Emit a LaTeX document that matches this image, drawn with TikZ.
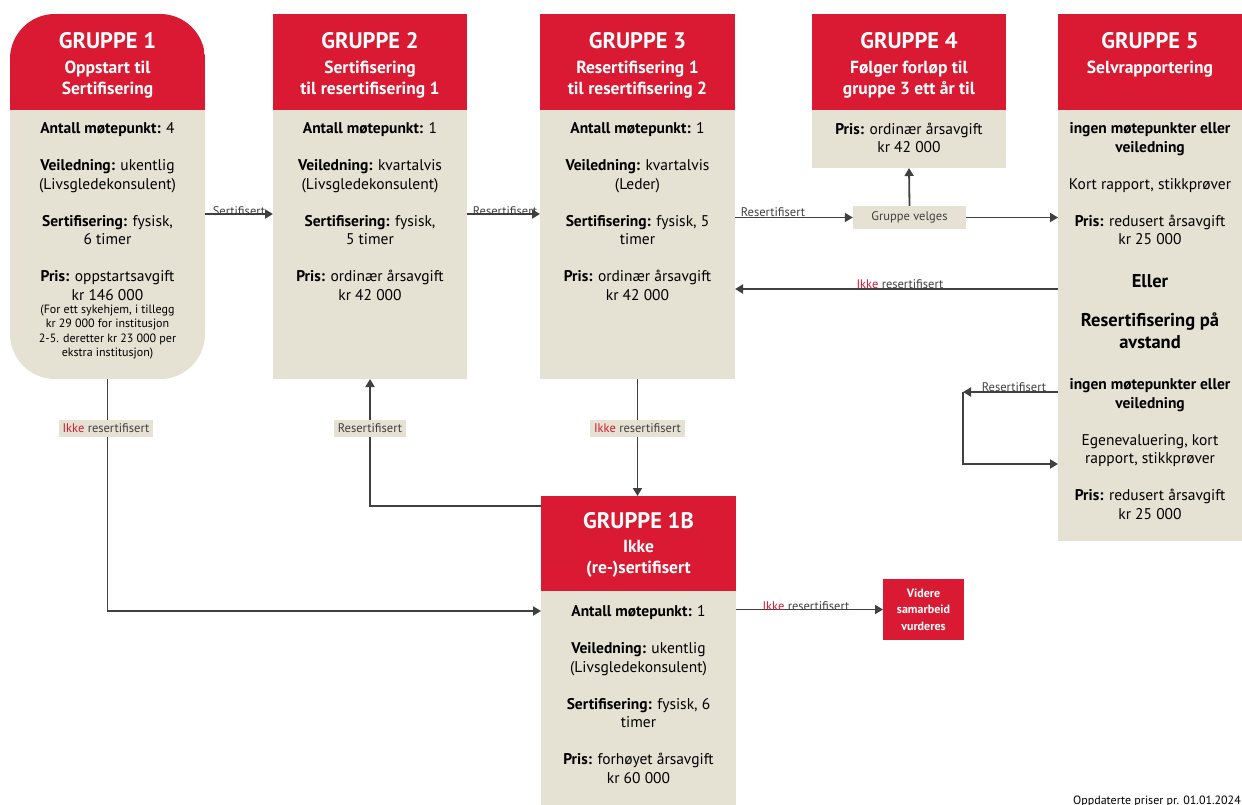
\documentclass[tikz,border=0pt]{standalone}
\usepackage{fontspec}
\setmainfont{PT Sans}
\usetikzlibrary{arrows.meta,calc}
\definecolor{rd}{HTML}{D91A32}
\definecolor{bg}{HTML}{E5E1D3}
\definecolor{lnc}{HTML}{404040}
\tikzset{
 bodybox/.style={fill=bg, inner sep=0, outer sep=0},
 headbox/.style={fill=rd, inner sep=0, outer sep=0},
 ttl/.style={text=white, inner sep=0, font=\fontsize{22.5}{24}\selectfont\bfseries},
 sub/.style={text=white, inner sep=0, font=\fontsize{17.5}{21}\selectfont\bfseries, align=center},
 txt/.style={font=\fontsize{15.5}{18.5}\selectfont, align=center, text=black, inner sep=0, anchor=north},
 small/.style={font=\fontsize{12}{14.5}\selectfont, align=center, text=black, inner sep=0},
 big/.style={font=\fontsize{18.5}{22}\selectfont\bfseries, align=center, text=black, inner sep=0},
 arr/.style={draw=lnc, line width=1.8pt, -{Triangle[length=8pt,width=9pt]}},
 plain/.style={draw=lnc, line width=1.8pt},
 lab/.style={font=\fontsize{12.5}{14}\selectfont, text=lnc, inner sep=0, anchor=base},
 tag/.style={fill=bg, font=\fontsize{12.5}{14}\selectfont, text=lnc, inner xsep=4pt, inner ysep=0, minimum height=17pt},
}
\begin{document}
\begin{tikzpicture}[x=1pt,y=-1pt]
\useasboundingbox (0,0) rectangle (1242,805);

% ---------- Gruppe 1 ----------
\node[bodybox, rounded corners=45pt, minimum width=195, minimum height=365] (g1) at (107.5,196.5) {};
\begin{scope}
\clip[rounded corners=45pt] (g1.north west) rectangle (g1.south east);
\fill[rd] (g1.north west) rectangle ($(g1.north east)+(0,96)$);
\end{scope}
\node[ttl] (g1t) at (107.5,41) {GRUPPE 1};
\node[sub] (g1s) at (107.5,79.5) {Oppstart til\\Sertifisering};
\node[txt] (g1x) at (107.5,122.5) {\textbf{Antall møtepunkt:} 4\\[18.5pt]\textbf{Veiledning:} ukentlig\\(Livsgledekonsulent)\\[18.5pt]\textbf{Sertifisering:} fysisk,\\6 timer\\[18.5pt]\textbf{Pris:} oppstartsavgift\\kr 146 000};
\node[small] (g1y) at (107.5,332) {(For ett sykehjem, i tillegg\\kr 29 000 for institusjon\\2-5. deretter kr 23 000 per\\ekstra institusjon)};

% ---------- Gruppe 2 ----------
\node[bodybox, minimum width=194, minimum height=365] (g2) at (370,196.5) {};
\node[headbox, minimum width=194, minimum height=96] (g2h) at (370,62) {};
\node[ttl] (g2t) at (370,41) {GRUPPE 2};
\node[sub] (g2s) at (370,79.5) {Sertifisering\\til resertifisering 1};
\node[txt] (g2x) at (370,122.5) {\textbf{Antall møtepunkt:} 1\\[18.5pt]\textbf{Veiledning:} kvartalvis\\(Livsgledekonsulent)\\[18.5pt]\textbf{Sertifisering:} fysisk,\\5 timer\\[18.5pt]\textbf{Pris:} ordinær årsavgift\\kr 42 000};

% ---------- Gruppe 3 ----------
\node[bodybox, minimum width=195, minimum height=365] (g3) at (637.5,196.5) {};
\node[headbox, minimum width=195, minimum height=96] (g3h) at (637.5,62) {};
\node[ttl] (g3t) at (637.5,41) {GRUPPE 3};
\node[sub] (g3s) at (637.5,79.5) {Resertifisering 1\\til resertifisering 2};
\node[txt] (g3x) at (637.5,122.5) {\textbf{Antall møtepunkt:} 1\\[18.5pt]\textbf{Veiledning:} kvartalvis\\(Leder)\\[18.5pt]\textbf{Sertifisering:} fysisk, 5\\timer\\[18.5pt]\textbf{Pris:} ordinær årsavgift\\kr 42 000};

% ---------- Gruppe 4 ----------
\node[bodybox, minimum width=194, minimum height=154] (g4) at (909,91) {};
\node[headbox, minimum width=194, minimum height=96] (g4h) at (909,62) {};
\node[ttl] (g4t) at (909,41) {GRUPPE 4};
\node[sub] (g4s) at (909,79.5) {Følger forløp til\\gruppe 3 ett år til};
\node[txt] (g4x) at (909,122.5) {\textbf{Pris:} ordinær årsavgift\\kr 42 000};

% ---------- Gruppe 5 ----------
\node[bodybox, minimum width=184, minimum height=527] (g5) at (1150,277.5) {};
\node[headbox, minimum width=184, minimum height=96] (g5h) at (1150,62) {};
\node[ttl] (g5t) at (1150,41) {GRUPPE 5};
\node[sub] (g5s) at (1150,69) {Selvrapportering};
\node[txt] (g5x) at (1150,122.5) {\textbf{ingen møtepunkter eller}\\\textbf{veiledning}\\[18.5pt]Kort rapport, stikkprøver\\[18.5pt]\textbf{Pris:} redusert årsavgift\\kr 25 000};
\node[big] (g5e) at (1150,281) {Eller};
\node[big] (g5r) at (1150,331) {Resertifisering på\\avstand};
\node[txt] (g5y) at (1150,378.5) {\textbf{ingen møtepunkter eller}\\\textbf{veiledning}\\[18.5pt]Egenevaluering, kort\\rapport, stikkprøver\\[18.5pt]\textbf{Pris:} redusert årsavgift\\kr 25 000};

% ---------- Gruppe 1B ----------
\node[bodybox, minimum width=195, minimum height=214] (g1b) at (638.5,698) {};
\node[headbox, minimum width=195, minimum height=95] (g1bh) at (638.5,543.5) {};
\node[ttl] (g1bt) at (638.5,521) {GRUPPE 1B};
\node[sub] (g1bs) at (638.5,559) {Ikke\\(re-)sertifisert};
\node[txt] (g1bx) at (638.5,605.5) {\textbf{Antall møtepunkt:} 1\\[18.5pt]\textbf{Veiledning:} ukentlig\\(Livsgledekonsulent)\\[18.5pt]\textbf{Sertifisering:} fysisk, 6\\timer\\[18.5pt]\textbf{Pris:} forhøyet årsavgift\\kr 60 000};

% ---------- Videre / Gruppe velges ----------
\node[headbox, minimum width=81, minimum height=61, text=white, align=center, font=\fontsize{12}{16.5}\selectfont\bfseries] (vid) at (923.5,609.5) {Videre\\samarbeid\\vurderes};
\node[fill=bg, minimum width=113, minimum height=23, inner sep=0, text=lnc, font=\fontsize{12.5}{14}\selectfont] (gv) at (909.5,217.5) {Gruppe velges};

% ---------- connectors ----------
\draw[arr] (g1.east |- 0,214) -- (g2.west |- 0,214);
\node[lab] (l1) at (239,216) {Sertifisert};
\draw[arr] (g2.east |- 0,214) -- (g3.west |- 0,214);
\node[lab] (l2) at (505,216) {Resertifisert};
\draw[arr] (g3.east |- gv.west) -- (gv.west);
\node[lab] (l3) at (773,217) {Resertifisert};
\draw[arr] (gv.east) -- (g5.west |- gv.east);
\draw[arr] (gv.north) -- (g4.south);
\draw[arr] (g5.west |- 0,289) -- (g3.east |- 0,289);
\node[lab] (l4) at (900,288) {\textcolor{rd}{Ikke} resertifisert};
\coordinate (lp1) at (963,392);
\coordinate (lp2) at (963,464);
\draw[arr] (g5.west |- lp1) -- (lp1);
\draw[arr] (lp1) -- (lp2) -- (g5.west |- lp2);
\node[lab] (l5) at (1014,391) {Resertifisert};

\draw[arr] (g3.south) -- (g3.south |- g1bh.north);
\node[tag] (t3) at (637.5,428) {\textcolor{rd}{Ikke} resertifisert};
\draw[arr] (g1bh.west |- 0,506) -| (g2.south);
\node[tag] (t2) at (370,428) {Resertifisert};
\draw[arr] (g1.south) |- (g1b.west |- 0,611);
\node[tag] (t1) at (106,428) {\textcolor{rd}{Ikke} resertifisert};
\draw[arr] (g1b.east |- vid.west) -- (vid.west);
\node[lab] (l6) at (806,610) {\textcolor{rd}{Ikke} resertifisert};

\node[anchor=base east, inner sep=0, text=black, font=\fontsize{12}{13}\selectfont] (upd) at (1241,804) {Oppdaterte priser pr. 01.01.2024};
\end{tikzpicture}
\end{document}
